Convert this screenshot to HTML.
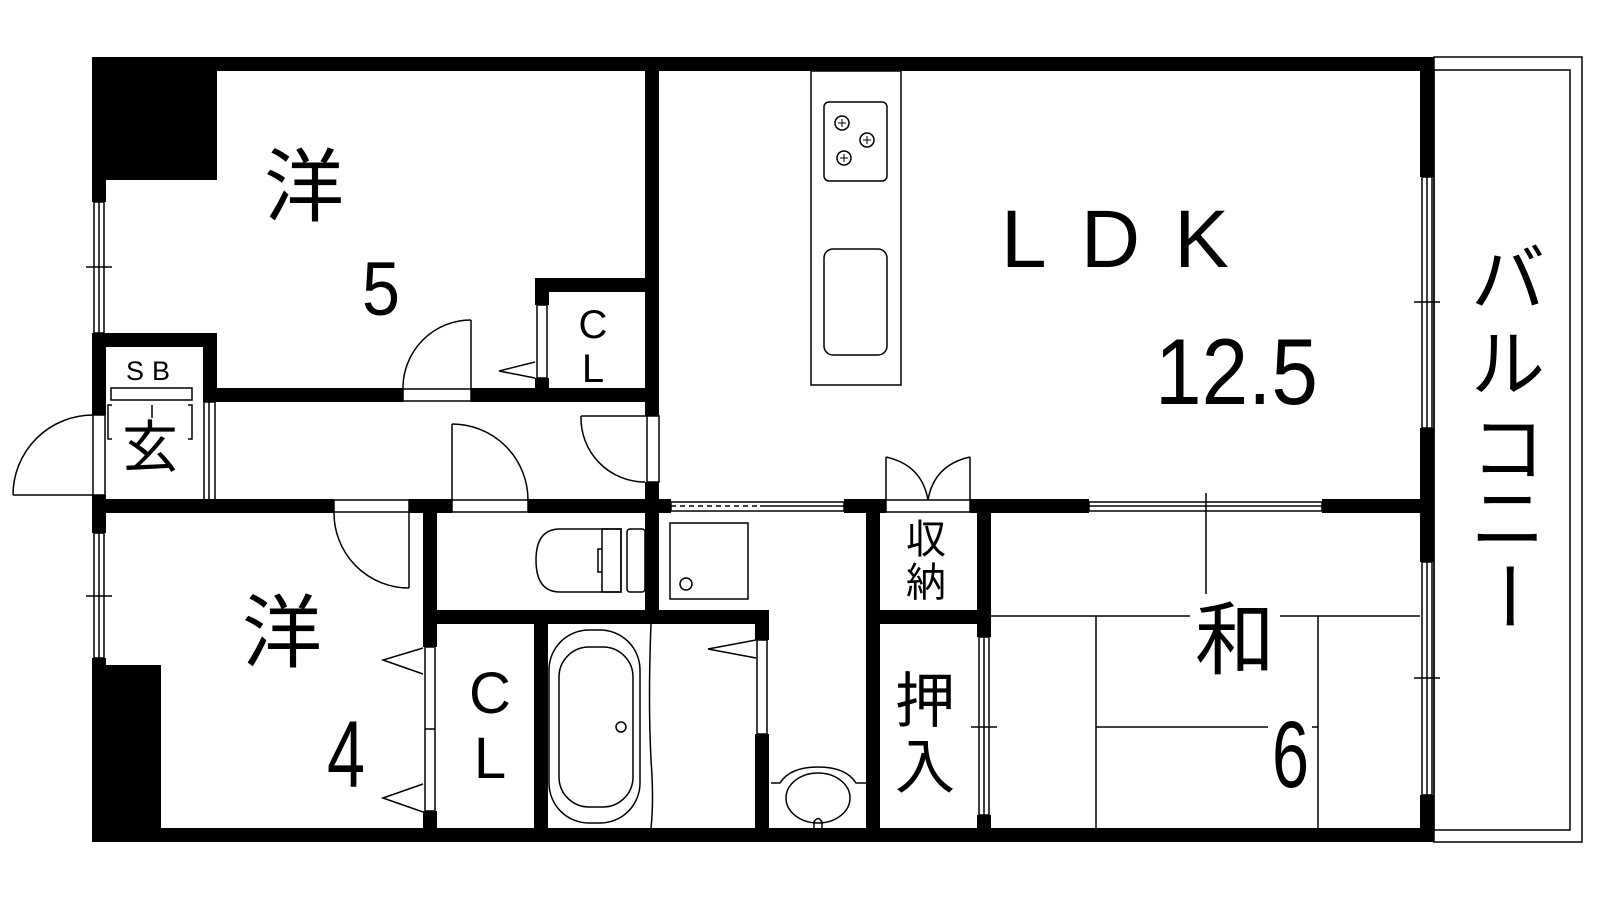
<!DOCTYPE html>
<html><head><meta charset="utf-8"><style>
html,body{margin:0;padding:0;background:#fff;}
svg{display:block}
text{font-family:"Liberation Sans","Noto Sans CJK JP",sans-serif;fill:#000}
.j{font-family:"Noto Sans CJK JP","Liberation Sans",sans-serif}
</style></head><body>
<svg width="1600" height="900" viewBox="0 0 1600 900" xmlns="http://www.w3.org/2000/svg">
<g fill="none" stroke="#000" stroke-width="1.5">
<!-- balcony -->
<rect x="1434" y="57" width="148" height="785"/>
<rect x="1434" y="70" width="136" height="760"/>
</g>
<g fill="#000">
<!-- top wall -->
<rect x="92" y="57" width="1342" height="14"/>
<!-- left black block -->
<rect x="92" y="57" width="125" height="123"/>
<rect x="92" y="57" width="14" height="145"/>
<!-- SB box -->
<rect x="92" y="333" width="125" height="14"/>
<rect x="92" y="333" width="14" height="82"/>
<rect x="203" y="333" width="14" height="69"/>
<!-- wall between 洋5 and LDK -->
<rect x="645" y="57" width="14" height="359"/>
<rect x="645" y="482" width="14" height="142"/>
<!-- hallway top wall -->
<rect x="203" y="388" width="200" height="14"/>
<rect x="471" y="388" width="188" height="14"/>
<!-- CL in 洋5 -->
<rect x="535" y="278" width="124" height="14"/>
<rect x="535" y="278" width="14" height="27"/>
<rect x="535" y="378" width="14" height="20"/>
<!-- hallway bottom wall -->
<rect x="92" y="499" width="242" height="14"/>
<rect x="409" y="499" width="43" height="14"/>
<rect x="528" y="499" width="143" height="14"/>
<rect x="844" y="499" width="42" height="14"/>
<rect x="970" y="499" width="119" height="14"/>
<rect x="1322" y="499" width="112" height="14"/>
<!-- left wall lower -->
<rect x="92" y="495" width="14" height="38"/>
<rect x="92" y="658" width="14" height="184"/>
<rect x="92" y="665" width="69" height="177"/>
<!-- 洋4 right wall -->
<rect x="423" y="499" width="14" height="148"/>
<rect x="423" y="811" width="14" height="31"/>
<!-- toilet walls -->
<rect x="423" y="610" width="345" height="14"/>
<rect x="534" y="610" width="14" height="232"/>
<rect x="755" y="610" width="14" height="30"/>
<rect x="755" y="734" width="14" height="108"/>
<!-- washroom right wall -->
<rect x="866" y="499" width="14" height="343"/>
<!-- 収納/押入 -->
<rect x="866" y="610" width="125" height="14"/>
<rect x="977" y="499" width="14" height="138"/>
<rect x="977" y="815" width="14" height="27"/>
<!-- right wall -->
<rect x="1420" y="57" width="14" height="120"/>
<rect x="1420" y="428" width="14" height="134"/>
<rect x="1420" y="795" width="14" height="47"/>
<!-- bottom wall -->
<rect x="92" y="828" width="1342" height="14"/>
</g>
<g fill="none" stroke="#000" stroke-width="1.5">
<!-- windows left -->
<rect x="94" y="202" width="10" height="131"/><line x1="99" y1="202" x2="99" y2="333"/><line x1="86" y1="267" x2="112" y2="267"/>
<rect x="94" y="533" width="10" height="125"/><line x1="99" y1="533" x2="99" y2="658"/><line x1="86" y1="596" x2="112" y2="596"/>
<!-- right windows -->
<rect x="1422" y="177" width="10" height="251"/><line x1="1427" y1="177" x2="1427" y2="428"/><line x1="1414" y1="302" x2="1440" y2="302"/>
<rect x="1422" y="562" width="10" height="233"/><line x1="1427" y1="562" x2="1427" y2="795"/><line x1="1414" y1="678" x2="1440" y2="678"/>
<rect x="979" y="637" width="10" height="178"/><line x1="984" y1="637" x2="984" y2="815"/><line x1="971" y1="727" x2="997" y2="727"/>
<!-- LDK/和 bottom window -->
<rect x="1089" y="502" width="233" height="9"/><line x1="1089" y1="506" x2="1322" y2="506"/><line x1="1206" y1="493" x2="1206" y2="594"/>
<rect x="671" y="502" width="173" height="9"/><line x1="671" y1="506" x2="760" y2="506" stroke-dasharray="5 4"/><line x1="760" y1="506" x2="844" y2="506"/>
<!-- entrance door -->
<rect x="93" y="415" width="12" height="80"/>
<line x1="13" y1="495" x2="93" y2="495"/><path d="M13 495 A80 80 0 0 1 93 415"/>
<rect x="111" y="388" width="81" height="12"/>
<rect x="204" y="402" width="11" height="98"/><line x1="209" y1="402" x2="209" y2="500"/>
<path d="M112 405 L108 405 L108 439 L112 439 M188 405 L192 405 L192 439 L188 439"/>
<line x1="152" y1="405" x2="152" y2="418"/>
<!-- 洋5 door -->
<rect x="403" y="389" width="68" height="12"/>
<line x1="471" y1="320" x2="471" y2="389"/><path d="M471 320 A68 68 0 0 0 403 389"/>
<!-- CL sliding -->
<rect x="537" y="305" width="10" height="73"/>
<path d="M535 362 L499 371 L535 378"/>
<!-- hallway doors -->
<line x1="452" y1="424" x2="452" y2="500"/><path d="M452 424 A76 76 0 0 1 528 500"/>
<rect x="452" y="500" width="76" height="12"/>
<rect x="647" y="416" width="12" height="66"/>
<line x1="581" y1="416" x2="647" y2="416"/><path d="M581 416 A64 64 0 0 0 645 482"/>
<!-- 洋4 door -->
<rect x="334" y="500" width="75" height="12"/>
<line x1="409" y1="512" x2="409" y2="588"/><path d="M334 512 A75 75 0 0 0 409 588"/>
<!-- 洋4 closet sliding -->
<rect x="425" y="647" width="10" height="164"/><line x1="425" y1="729" x2="435" y2="729"/>
<path d="M423 648 L383 660 L423 674"/><path d="M423 784 L383 798 L423 812"/>
<!-- toilet -->
<path d="M575 529 L560 529 Q536 529 536 560 Q536 592 560 592 L621 592 L621 529 Z"/>
<rect x="602" y="529" width="19" height="63"/>
<path d="M602 549 L598 549 L598 572 L602 572"/>
<rect x="627" y="529" width="18" height="63" rx="3"/>
<!-- washing pan -->
<rect x="670" y="523" width="78" height="76"/><circle cx="686" cy="584" r="6"/>
<!-- bath -->
<rect x="549" y="630" width="91" height="193" rx="40"/>
<rect x="559" y="647" width="74" height="160" rx="30"/>
<circle cx="621" cy="727" r="5"/>
<path d="M651 624 Q648 700 651 760 Q654 800 651 828"/>
<rect x="757" y="640" width="10" height="94"/>
<path d="M756 640 L708 649 L756 658"/>
<!-- sink -->
<path d="M771 783 L780 783 Q790 767 818 767 Q846 767 856 783 L866 783"/>
<ellipse cx="818" cy="798" rx="32" ry="25"/>
<path d="M814 828 L814 822 Q818 815 822 822 L822 828"/>
<!-- 収納 doors -->
<rect x="886" y="500" width="84" height="12"/>
<line x1="886" y1="457" x2="886" y2="500"/><line x1="970" y1="457" x2="970" y2="500"/>
<path d="M886 457 Q922 465 928 500"/><path d="M970 457 Q934 465 928 500"/>
<!-- kitchen -->
<rect x="811" y="71" width="90" height="314"/>
<rect x="824" y="102" width="63" height="79" rx="5"/>
<rect x="824" y="249" width="63" height="106" rx="9"/>
<circle cx="842" cy="123" r="7"/><circle cx="867" cy="140" r="7"/><circle cx="844" cy="158" r="7"/>
<!-- tatami -->
<line x1="991" y1="616" x2="1420" y2="616"/>
<line x1="1096" y1="616" x2="1096" y2="828"/>
<line x1="1318" y1="616" x2="1318" y2="828"/>
<line x1="1096" y1="727" x2="1318" y2="727"/>
</g>
<g fill="#000" stroke="#000" stroke-width="1">
<path d="M838 123h8M842 119v8M863 140h8M867 136v8M840 158h8M844 154v8"/>
</g>
<!-- labels -->
<rect x="1190" y="600" width="90" height="80" fill="#fff"/>
<rect x="1268" y="715" width="44" height="76" fill="#fff"/>
<g class="j">
<text class="j" x="304" y="215" font-size="80" text-anchor="middle">洋</text>
<text class="j" x="282" y="661" font-size="80" text-anchor="middle">洋</text>
<text class="j" x="1235" y="668" font-size="80" text-anchor="middle">和</text>
<text class="j" x="150" y="467" font-size="56" text-anchor="middle">玄</text>
<text class="j" x="926" y="553" font-size="40" text-anchor="middle">収</text>
<text class="j" x="926" y="596" font-size="40" text-anchor="middle">納</text>
<text class="j" x="925" y="722" font-size="60" text-anchor="middle">押</text>
<text class="j" x="925" y="788" font-size="60" text-anchor="middle">入</text>
<text class="j" x="1508" y="305" font-size="74" text-anchor="middle">バ</text>
<text class="j" x="1508" y="390" font-size="74" text-anchor="middle">ル</text>
<text class="j" x="1508" y="475" font-size="74" text-anchor="middle">コ</text>
<text class="j" x="1508" y="545" font-size="74" text-anchor="middle">ニ</text>
<text class="j" x="1508" y="622" font-size="74" text-anchor="middle" transform="rotate(90 1508 596)">ー</text>
</g>
<text x="1001" y="267" font-size="82" textLength="228" lengthAdjust="spacing">LDK</text>
<text x="1155" y="404" font-size="94" textLength="163" lengthAdjust="spacingAndGlyphs">12.5</text>
<text x="362" y="315" font-size="76" textLength="38" lengthAdjust="spacingAndGlyphs">5</text>
<text x="327" y="787" font-size="95" textLength="38" lengthAdjust="spacingAndGlyphs">4</text>
<text x="1272" y="787" font-size="95" textLength="37" lengthAdjust="spacingAndGlyphs">6</text>
<text x="152" y="380" font-size="27" text-anchor="middle" letter-spacing="8">SB</text>
<text x="593" y="338" font-size="40" text-anchor="middle">C</text>
<text x="593" y="382" font-size="40" text-anchor="middle">L</text>
<text x="490" y="713" font-size="58" text-anchor="middle">C</text>
<text x="490" y="778" font-size="58" text-anchor="middle">L</text>
</svg>
</body></html>
